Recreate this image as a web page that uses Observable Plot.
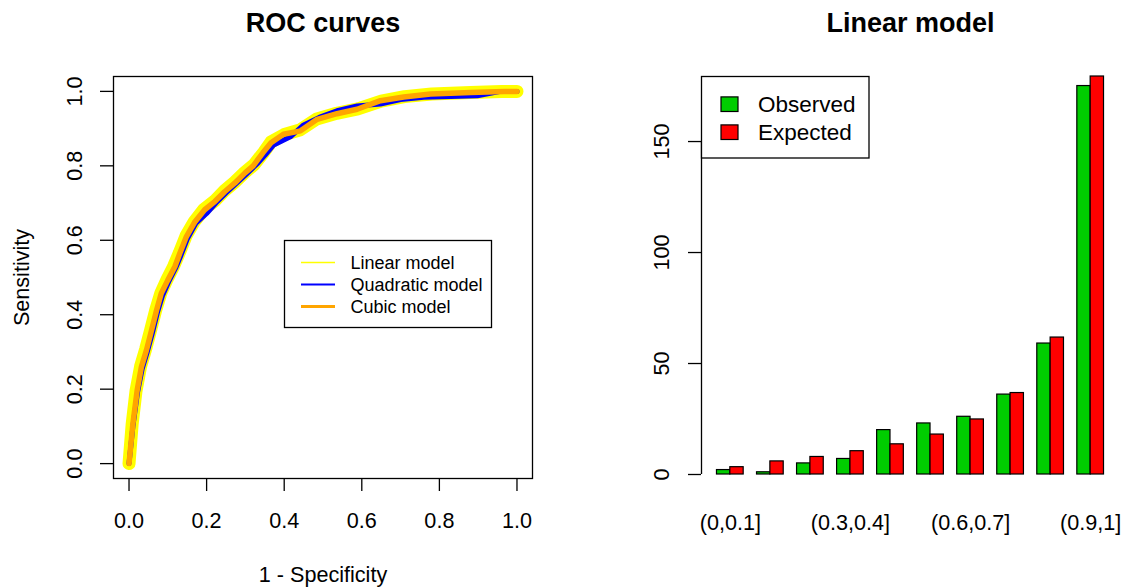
<!DOCTYPE html>
<html><head><meta charset="utf-8">
<script src="https://cdn.jsdelivr.net/npm/d3@7"></script>
<script src="https://cdn.jsdelivr.net/npm/@observablehq/plot@0.6"></script>
<style>
body{margin:0;background:#fff;}
#wrap{position:relative;width:1126px;height:587px;overflow:hidden;background:#fff;font-family:"Liberation Sans",Arial,sans-serif;}
#wrap svg{position:absolute;top:0;}
</style></head><body><div id="wrap"></div>
<script>
// ---------- ROC curves data ----------
const models = ["Linear model", "Quadratic model", "Cubic model"];
const modelColors = ["#FFFF00", "#0000FF", "#FFA500"];

const fprLinear = [0, 0.008, 0.018, 0.030, 0.043, 0.056, 0.069, 0.082, 0.098, 0.115, 0.130, 0.147, 0.168, 0.193, 0.220, 0.246, 0.272, 0.298, 0.322, 0.347, 0.366, 0.400, 0.440, 0.484, 0.535, 0.590, 0.650, 0.710, 0.780, 0.880, 0.960, 1.0];
const tprLinear = [0, 0.105, 0.195, 0.262, 0.308, 0.360, 0.413, 0.458, 0.495, 0.530, 0.567, 0.612, 0.650, 0.683, 0.705, 0.733, 0.756, 0.782, 0.803, 0.836, 0.864, 0.884, 0.896, 0.926, 0.941, 0.953, 0.974, 0.986, 0.993, 0.997, 1.0, 1.0];

const fprQuadratic = [0, 0.010, 0.022, 0.034, 0.047, 0.060, 0.073, 0.086, 0.102, 0.120, 0.134, 0.150, 0.172, 0.200, 0.224, 0.250, 0.276, 0.302, 0.330, 0.352, 0.373, 0.416, 0.450, 0.490, 0.536, 0.588, 0.648, 0.700, 0.760, 0.898, 0.958, 1.0];
const tprQuadratic = [0, 0.100, 0.192, 0.255, 0.300, 0.350, 0.405, 0.450, 0.488, 0.525, 0.560, 0.603, 0.645, 0.672, 0.700, 0.727, 0.752, 0.777, 0.805, 0.830, 0.856, 0.878, 0.910, 0.930, 0.948, 0.961, 0.966, 0.978, 0.984, 0.988, 1.0, 1.0];

const fprCubic = [0, 0.010, 0.021, 0.032, 0.045, 0.058, 0.071, 0.083, 0.100, 0.118, 0.131, 0.148, 0.170, 0.195, 0.221, 0.247, 0.273, 0.299, 0.320, 0.345, 0.366, 0.398, 0.442, 0.485, 0.536, 0.588, 0.648, 0.708, 0.777, 0.881, 0.967, 1.0];
const tprCubic = [0, 0.107, 0.197, 0.260, 0.305, 0.358, 0.412, 0.457, 0.493, 0.529, 0.565, 0.610, 0.650, 0.682, 0.704, 0.731, 0.754, 0.781, 0.800, 0.835, 0.862, 0.885, 0.894, 0.925, 0.940, 0.952, 0.975, 0.985, 0.993, 0.997, 1.0, 1.0];

const rocTicks = [0, 0.2, 0.4, 0.6, 0.8, 1.0];

// ---------- Calibration bar data ----------
const categories = ["(0,0.1]", "(0.1,0.2]", "(0.2,0.3]", "(0.3,0.4]", "(0.4,0.5]", "(0.5,0.6]", "(0.6,0.7]", "(0.7,0.8]", "(0.8,0.9]", "(0.9,1]"];
const observed = [2, 1, 5, 7, 20, 23, 26, 36, 59, 175];
const expected = [3.3, 5.9, 7.9, 10.5, 13.6, 18.0, 24.8, 36.7, 61.7, 179.3];
const seriesNames = ["Observed", "Expected"];
const seriesColors = ["#00CD00", "#FF0000"];
const barYTicks = [0, 50, 100, 150];
const shownLabels = ["(0,0.1]", "(0.3,0.4]", "(0.6,0.7]", "(0.9,1]"];

const FONT = '"Liberation Sans", Arial, sans-serif';
const wrap = document.getElementById("wrap");

// ---------- left: ROC ----------
const curves = [
  {x: fprLinear, y: tprLinear, color: modelColors[0], w: 13},
  {x: fprQuadratic, y: tprQuadratic, color: modelColors[1], w: 5},
  {x: fprCubic, y: tprCubic, color: modelColors[2], w: 5.5}
];
const rocMarks = [Plot.frame({stroke: "black", strokeWidth: 1.3})];
for (const c of curves) {
  rocMarks.push(Plot.line(c.x.map((v, i) => ({fpr: v, tpr: c.y[i]})), {
    x: "fpr", y: "tpr", stroke: c.color, strokeWidth: c.w,
    strokeLinecap: "round", strokeLinejoin: "round"
  }));
}
rocMarks.push(
  Plot.axisX({ticks: rocTicks, tickFormat: d3.format(".1f"), tickSize: 13, tickPadding: 21, label: null, strokeWidth: 1.3}),
  Plot.axisY({ticks: rocTicks, tickFormat: d3.format(".1f"), tickSize: 13, tickPadding: 19, tickRotate: -90, label: null, strokeWidth: 1.3}),
  Plot.text(["1 - Specificity"], {text: d => d, frameAnchor: "bottom", dy: 103.5, lineAnchor: "bottom"}),
  Plot.text(["Sensitivity"], {text: d => d, frameAnchor: "left", dx: -85, rotate: -90, lineAnchor: "bottom", textAnchor: "middle"}),
  Plot.text(["ROC curves"], {text: d => d, frameAnchor: "top", dy: -44.5, lineAnchor: "bottom", fontWeight: "bold", fontSize: 27})
);
const left = Plot.plot({
  width: 563, height: 587,
  marginTop: 76, marginBottom: 109, marginLeft: 113, marginRight: 31,
  style: {fontFamily: FONT, fontSize: "21.6px", color: "black", background: "transparent", overflow: "visible"},
  x: {domain: [-0.04, 1.04]},
  y: {domain: [-0.04, 1.04]},
  marks: rocMarks
});
left.style.left = "0px";
wrap.appendChild(left);

// ---------- right: bars ----------
const rows = [];
categories.forEach((cat, i) => {
  rows.push({cat, series: seriesNames[0], value: observed[i], x1: 3 * i + 1, x2: 3 * i + 2});
  rows.push({cat, series: seriesNames[1], value: expected[i], x1: 3 * i + 2, x2: 3 * i + 3});
});
const xMin = d3.min(rows, d => d.x1), xMax = d3.max(rows, d => d.x2);
const xPad = 0.04 * (xMax - xMin);
const yMax = d3.max(rows, d => d.value);
const catCenter = new Map(categories.map((c, i) => [3 * i + 2, c]));

const right = Plot.plot({
  width: 563, height: 587,
  marginTop: 76, marginBottom: 113, marginLeft: 138, marginRight: 7,
  style: {fontFamily: FONT, fontSize: "21.6px", color: "black", background: "transparent", overflow: "visible"},
  x: {domain: [xMin - xPad, xMax + xPad]},
  y: {domain: [0, yMax]},
  color: {domain: seriesNames, range: seriesColors},
  marks: [
    Plot.rect(rows, {x1: "x1", x2: "x2", y1: 0, y2: "value", fill: "series", stroke: "black", strokeWidth: 1.2}),
    Plot.ruleX([xMin - xPad], {y1: barYTicks[0], y2: barYTicks[barYTicks.length - 1], stroke: "black", strokeWidth: 1.3}),
    Plot.axisY({ticks: barYTicks, tickSize: 13, tickPadding: 20, tickRotate: -90, label: null, strokeWidth: 1.3}),
    Plot.axisX({ticks: categories.map((c, i) => 3 * i + 2).filter(v => shownLabels.includes(catCenter.get(v))),
      tickFormat: v => catCenter.get(v), tickSize: 0, tickPadding: 40, label: null}),
    Plot.text(["Linear model"], {text: d => d, frameAnchor: "top", dy: -44.5, lineAnchor: "bottom", fontWeight: "bold", fontSize: 27})
  ]
});
right.style.left = "563px";
wrap.appendChild(right);

// ---------- legends (overlay) ----------
const ov = d3.select(wrap).append("svg")
  .attr("width", 1126).attr("height", 587)
  .style("left", "0px").style("top", "0px")
  .style("font-family", FONT);

// ROC legend
const lg1 = ov.append("g");
lg1.append("rect").attr("x", 284.5).attr("y", 240.5).attr("width", 207).attr("height", 87)
  .attr("fill", "white").attr("stroke", "black").attr("stroke-width", 1.3);
const legendLineW = [1.6, 2.2, 2.8];
models.forEach((m, i) => {
  const y = 262.5 + i * 22;
  lg1.append("line").attr("x1", 301).attr("x2", 335).attr("y1", y).attr("y2", y)
    .attr("stroke", modelColors[i]).attr("stroke-width", legendLineW[i]);
  lg1.append("text").attr("x", 350.5).attr("y", y + 6.8).attr("font-size", 18).attr("fill", "black").text(m);
});

// Bar legend
const lg2 = ov.append("g");
lg2.append("rect").attr("x", 701.5).attr("y", 76.5).attr("width", 167.5).attr("height", 81.5)
  .attr("fill", "white").attr("stroke", "black").attr("stroke-width", 1.3);
seriesNames.forEach((s, i) => {
  const yc = 104.2 + i * 28;
  lg2.append("rect").attr("x", 721).attr("y", yc - 7.3).attr("width", 17).attr("height", 14.6)
    .attr("fill", seriesColors[i]).attr("stroke", "black").attr("stroke-width", 1.2);
  lg2.append("text").attr("x", 758).attr("y", yc + 8).attr("font-size", 22.5).attr("fill", "black").text(s);
});
</script>
</body></html>
